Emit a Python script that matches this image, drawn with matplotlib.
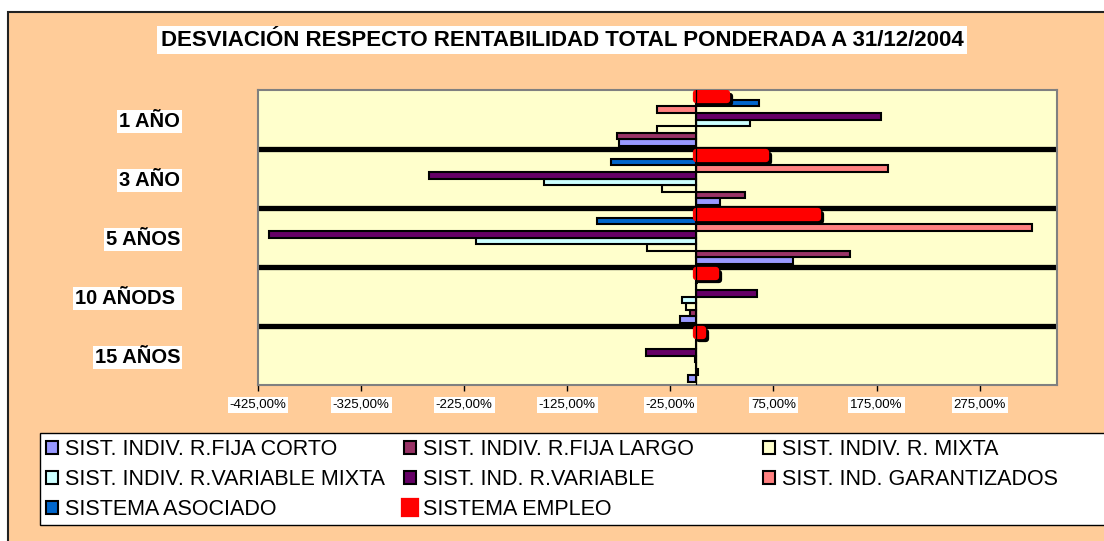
import numpy as np
import matplotlib.pyplot as plt
import matplotlib.patheffects as pe
from matplotlib.patches import Rectangle

plt.rcParams['font.family'] = ['Liberation Sans', 'DejaVu Sans']

# categories, top to bottom
categories = ["1 AÑO", "3 AÑO", "5 AÑOS", "10 AÑODS ", "15 AÑOS"]

series_names = [
    "SIST. INDIV. R.FIJA CORTO",
    "SIST. INDIV. R.FIJA LARGO",
    "SIST. INDIV. R. MIXTA",
    "SIST. INDIV. R.VARIABLE MIXTA",
    "SIST. IND. R.VARIABLE",
    "SIST. IND. GARANTIZADOS",
    "SISTEMA ASOCIADO",
    "SISTEMA EMPLEO",
]
colors = ["#9999FF", "#993366", "#FFFFCC", "#CCFFFF",
          "#660066", "#FF8080", "#0066CC", "#FF0000"]

# desviación (%) per category
fija_corto = [-75, 23, 94, -16, -8]
fija_largo = [-77, 47, 149, -6, 2]
mixta = [-38, -33, -48, -10, 0]
variable_mixta = [52, -148, -214, -14, -1]
variable = [179, -259, -414, 59, -49]
garantizados = [-38, 186, 326, 0, 0]
asociado = [61, -83, -96, 1, 0]
empleo = [30, 68, 118, 19, 7]

values = [fija_corto, fija_largo, mixta, variable_mixta,
          variable, garantizados, asociado, empleo]

x_ticks = [-425, -325, -225, -125, -25, 75, 175, 275]
x_min, x_max = -425, 350

W, H = 1104, 541
fig = plt.figure(figsize=(W / 100, H / 100), dpi=100)
fig.patch.set_facecolor("white")

# orange chart area with dark border
fig.add_artist(Rectangle((8 / W, -0.05), 1.1, 1 - 12 / H + 0.05,
                         transform=fig.transFigure, facecolor="#FFCC99",
                         edgecolor="#222222", lw=1.5, zorder=-10))

ax = fig.add_axes([258 / W, 1 - 385 / H, 799 / W, 295 / H])
ax.set_facecolor("#FFFFCC")

y = np.arange(len(categories))
n = len(series_names)
h = (8 / 9) / n

handles = []
for i, (name, vals, col) in enumerate(zip(series_names, values, colors)):
    off = (n / 2 - 0.5 - i) * h
    if name == "SISTEMA EMPLEO":
        b = ax.barh(y + off, vals, height=h, color=col, edgecolor=col,
                    lw=4.5, joinstyle="round", label=name, zorder=3,
                    path_effects=[pe.SimplePatchShadow(offset=(2.2, -2.2), shadow_rgbFace="black",
                                                       alpha=1.0, foreground="black", linewidth=4.5),
                                  pe.Normal()])
    else:
        b = ax.barh(y + off, vals, height=h, color=col, edgecolor="black",
                    lw=1.5, label=name, zorder=2)
    handles.append(b)

ax.set_xlim(x_min, x_max)
ax.set_ylim(len(categories) - 0.5, -0.5)

# thick black separators between groups
ax.set_yticks(y[:-1] + 0.5, minor=True)
ax.grid(which="minor", axis="y", color="black", lw=3.8)
ax.tick_params(axis="y", which="minor", length=0)
ax.set_axisbelow(True)

ax.axvline(0, color="black", lw=0.9, zorder=4)

ax.set_yticks(y, categories)
ax.tick_params(axis="y", which="major", length=0, pad=56, labelsize=14.5)
for lbl in ax.get_yticklabels():
    lbl.set_fontweight("bold")
    lbl.set_bbox(dict(facecolor="white", edgecolor="none", boxstyle="square,pad=0.1"))

ax.set_xticks(x_ticks, [f"{v:.2f}%".replace(".", ",") for v in x_ticks])
ax.tick_params(axis="x", direction="out", length=4, width=1, color="black",
               labelsize=9.5, pad=6)
for lbl in ax.get_xticklabels():
    lbl.set_bbox(dict(facecolor="white", edgecolor="none", boxstyle="square,pad=0.15"))

for s in ax.spines.values():
    s.set_color("#808080")
    s.set_linewidth(1.5)

fig.text(562 / W, 1 - 40 / H,
         "DESVIACIÓN RESPECTO RENTABILIDAD TOTAL PONDERADA A 31/12/2004",
         ha="center", va="center", fontsize=16, fontweight="bold",
         bbox=dict(facecolor="white", edgecolor="none", boxstyle="square,pad=0.15"))

# legend box
fig.add_artist(Rectangle((40 / W, 1 - 525 / H), 1.1, 92 / H,
                         transform=fig.transFigure, facecolor="white",
                         edgecolor="black", lw=1, zorder=-5))

# Excel fills legend row-wise, so one legend per column
columns = [[0, 3, 6], [1, 4, 7], [2, 5]]
col_x = [46, 404, 763]
for idx, cx in zip(columns, col_x):
    lg = fig.legend([handles[k] for k in idx], [series_names[k] for k in idx],
                    loc="upper left", bbox_to_anchor=(cx / W, 1 - 439 / H),
                    frameon=False, fontsize=15.5, borderpad=0, borderaxespad=0,
                    handlelength=0.55, handleheight=0.6, handletextpad=0.35,
                    labelspacing=0.42)
    for hd in lg.legend_handles:
        hd.set_path_effects([])

fig.savefig("out.png", dpi=100)
